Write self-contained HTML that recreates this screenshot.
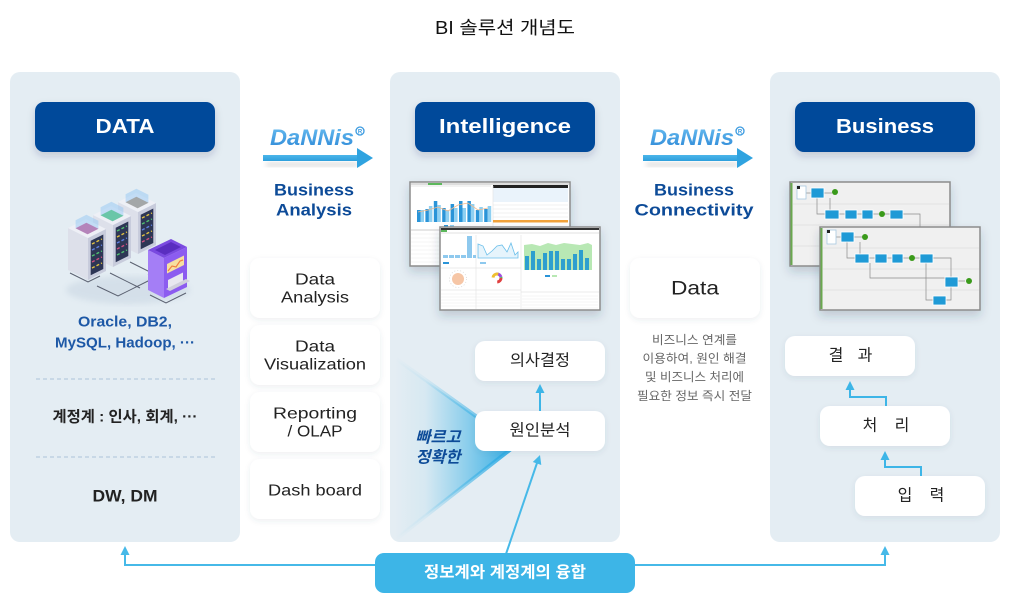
<!DOCTYPE html>
<html><head><meta charset="utf-8">
<style>
html,body{margin:0;padding:0;background:#fff;}
svg{display:block;}
text{font-family:"Liberation Sans","Noto Sans CJK KR",sans-serif;}
</style></head>
<body>
<svg width="1010" height="601" viewBox="0 0 1010 601" xmlns="http://www.w3.org/2000/svg">
<defs>
  <filter id="sh" x="-20%" y="-20%" width="140%" height="150%">
    <feDropShadow dx="0" dy="2" stdDeviation="3" flood-color="#2a4a6a" flood-opacity="0.09"/>
  </filter>
  <filter id="hsh" x="-20%" y="-20%" width="140%" height="160%">
    <feDropShadow dx="0" dy="4" stdDeviation="4" flood-color="#1a3050" flood-opacity="0.18"/>
  </filter>
  <filter id="ssh" x="-20%" y="-20%" width="140%" height="160%">
    <feDropShadow dx="0" dy="5" stdDeviation="5" flood-color="#1a3050" flood-opacity="0.2"/>
  </filter>
  <filter id="blur4"><feGaussianBlur stdDeviation="3"/></filter>
  <linearGradient id="tri" x1="395" y1="0" x2="516" y2="0" gradientUnits="userSpaceOnUse">
    <stop offset="0" stop-color="#3bb4e6" stop-opacity="0"/>
    <stop offset="0.25" stop-color="#3bb4e6" stop-opacity="0.08"/>
    <stop offset="1" stop-color="#2eaae3" stop-opacity="1"/>
  </linearGradient>
  <linearGradient id="dan" x1="0" y1="0" x2="0" y2="1">
    <stop offset="0" stop-color="#6cc0f2"/>
    <stop offset="1" stop-color="#2a86d6"/>
  </linearGradient>
  <linearGradient id="arr" x1="0" y1="0" x2="0" y2="1">
    <stop offset="0" stop-color="#4cb6ea"/>
    <stop offset="1" stop-color="#2e9fdc"/>
  </linearGradient>
</defs>

<!-- Title -->
<text x="505" y="28" font-size="18" fill="#111" text-anchor="middle" dominant-baseline="central" textLength="140" lengthAdjust="spacingAndGlyphs">BI 솔루션 개념도</text>

<!-- Panels -->
<rect x="10" y="72" width="230" height="470" rx="10" fill="#e4edf3"/>
<rect x="390" y="72" width="230" height="470" rx="10" fill="#e4edf3"/>
<rect x="770" y="72" width="230" height="470" rx="10" fill="#e4edf3"/>

<!-- Header buttons -->
<rect x="35" y="102" width="180" height="50" rx="9" fill="#00489a" filter="url(#hsh)"/>
<text x="125" y="127" font-size="20" font-weight="bold" fill="#fff" text-anchor="middle" dominant-baseline="central" textLength="59" lengthAdjust="spacingAndGlyphs">DATA</text>
<rect x="415" y="102" width="180" height="50" rx="9" fill="#00489a" filter="url(#hsh)"/>
<text x="505" y="127" font-size="20" font-weight="bold" fill="#fff" text-anchor="middle" dominant-baseline="central" textLength="132" lengthAdjust="spacingAndGlyphs">Intelligence</text>
<rect x="795" y="102" width="180" height="50" rx="9" fill="#00489a" filter="url(#hsh)"/>
<text x="885" y="127" font-size="20" font-weight="bold" fill="#fff" text-anchor="middle" dominant-baseline="central" textLength="98" lengthAdjust="spacingAndGlyphs">Business</text>

<!-- DaNNis arrows -->
<g>
  <text x="270" y="145" font-size="22" font-weight="bold" font-style="italic" fill="url(#dan)" textLength="84" lengthAdjust="spacingAndGlyphs">DaNNis</text>
  <circle cx="360" cy="131" r="4" fill="none" stroke="#3a9ae0" stroke-width="1.3"/>
  <text x="360" y="133.5" font-size="6" font-weight="bold" fill="#3a9ae0" text-anchor="middle">R</text>
  <rect x="266" y="162" width="92" height="5" fill="#000" opacity="0.13" filter="url(#blur4)"/>
  <rect x="263" y="155" width="95" height="6" fill="url(#arr)"/>
  <polygon points="357,148 373,158 357,168" fill="#2fa3e0"/>
  <text x="314" y="190" font-size="17" font-weight="bold" fill="#0d4b98" text-anchor="middle" dominant-baseline="central" textLength="80" lengthAdjust="spacingAndGlyphs">Business</text>
  <text x="314" y="210" font-size="17" font-weight="bold" fill="#0d4b98" text-anchor="middle" dominant-baseline="central" textLength="76" lengthAdjust="spacingAndGlyphs">Analysis</text>
</g>
<g>
  <text x="650" y="145" font-size="22" font-weight="bold" font-style="italic" fill="url(#dan)" textLength="84" lengthAdjust="spacingAndGlyphs">DaNNis</text>
  <circle cx="740" cy="131" r="4" fill="none" stroke="#3a9ae0" stroke-width="1.3"/>
  <text x="740" y="133.5" font-size="6" font-weight="bold" fill="#3a9ae0" text-anchor="middle">R</text>
  <rect x="646" y="162" width="92" height="5" fill="#000" opacity="0.13" filter="url(#blur4)"/>
  <rect x="643" y="155" width="95" height="6" fill="url(#arr)"/>
  <polygon points="737,148 753,158 737,168" fill="#2fa3e0"/>
  <text x="694" y="190" font-size="17" font-weight="bold" fill="#0d4b98" text-anchor="middle" dominant-baseline="central" textLength="80" lengthAdjust="spacingAndGlyphs">Business</text>
  <text x="694" y="210" font-size="17" font-weight="bold" fill="#0d4b98" text-anchor="middle" dominant-baseline="central" textLength="119" lengthAdjust="spacingAndGlyphs">Connectivity</text>
</g>

<!-- Column 2 boxes -->
<g filter="url(#sh)">
  <rect x="250" y="258" width="130" height="60" rx="10" fill="#fff"/>
  <rect x="250" y="325" width="130" height="60" rx="10" fill="#fff"/>
  <rect x="250" y="392" width="130" height="60" rx="10" fill="#fff"/>
  <rect x="250" y="459" width="130" height="60" rx="10" fill="#fff"/>
  <rect x="630" y="258" width="130" height="60" rx="10" fill="#fff"/>
</g>
<g font-size="16" fill="#222" text-anchor="middle" dominant-baseline="central">
  <text x="315" y="280" textLength="40" lengthAdjust="spacingAndGlyphs">Data</text>
  <text x="315" y="298" textLength="68" lengthAdjust="spacingAndGlyphs">Analysis</text>
  <text x="315" y="347" textLength="40" lengthAdjust="spacingAndGlyphs">Data</text>
  <text x="315" y="365" textLength="102" lengthAdjust="spacingAndGlyphs">Visualization</text>
  <text x="315" y="414" textLength="84" lengthAdjust="spacingAndGlyphs">Reporting</text>
  <text x="315" y="432" textLength="55" lengthAdjust="spacingAndGlyphs">/ OLAP</text>
  <text x="315" y="491" textLength="94" lengthAdjust="spacingAndGlyphs">Dash board</text>
</g>
<text x="695" y="289" font-size="19" fill="#222" text-anchor="middle" dominant-baseline="central" textLength="48" lengthAdjust="spacingAndGlyphs">Data</text>
<g font-size="12" fill="#666" text-anchor="middle" dominant-baseline="central">
  <text x="694.5" y="340" textLength="85" lengthAdjust="spacingAndGlyphs">비즈니스 연계를</text>
  <text x="694.5" y="358.5" textLength="104" lengthAdjust="spacingAndGlyphs">이용하여, 원인 해결</text>
  <text x="694.5" y="377" textLength="99" lengthAdjust="spacingAndGlyphs">및 비즈니스 처리에</text>
  <text x="694.5" y="396" textLength="115" lengthAdjust="spacingAndGlyphs">필요한 정보 즉시 전달</text>
</g>

<!-- Panel 1 servers illustration -->
<g>
  <ellipse cx="128" cy="290" rx="62" ry="14" fill="#b8c8d8" opacity="0.35" filter="url(#blur4)"/>
  <g stroke="#5a6070" stroke-width="1" fill="none">
    <polyline points="70,273 88,282 100,276"/>
    <polyline points="97,286 118,296 150,280"/>
    <polyline points="130,262 152,273 148,275"/>
    <polyline points="150,295 166,303 186,293"/>
    <polyline points="140,288 110,273"/>
  </g>
  <g transform="translate(50,-26)">
    <polygon points="68,228 88,238 88,280 68,270" fill="#dde0ea"/>
    <polygon points="88,238 106,229 106,271 88,280" fill="#c8ccdc"/>
    <polygon points="68,228 86,219 106,229 88,238" fill="#eef0f6"/>
    <polygon points="90.7,240.8 103.3,234.5 103.3,269 90.7,275.2" fill="#2d3655"/>
    <g stroke-width="1.4" stroke-dasharray="3 2">
      <line x1="92" y1="244" x2="102" y2="239" stroke="#e0c040"/>
      <line x1="92" y1="250" x2="102" y2="245" stroke="#50c070"/>
      <line x1="92" y1="256" x2="102" y2="251" stroke="#6080e0"/>
      <line x1="92" y1="262" x2="102" y2="257" stroke="#e0c040"/>
      <line x1="92" y1="268" x2="102" y2="263" stroke="#d05080"/>
    </g>
    <polygon points="75.6,228.2 86.4,222.8 98.4,228.8 87.6,234.2" fill="#b8906a"/>
    <polygon points="75.6,228.2 87.6,234.2 98.4,228.8 98.4,220.8 86.4,214.8 75.6,220.2" fill="#8cc4f4" opacity="0.45"/>
  </g>
  <g transform="translate(25,-13)">
    <polygon points="68,228 88,238 88,280 68,270" fill="#dde0ea"/>
    <polygon points="88,238 106,229 106,271 88,280" fill="#c8ccdc"/>
    <polygon points="68,228 86,219 106,229 88,238" fill="#eef0f6"/>
    <polygon points="90.7,240.8 103.3,234.5 103.3,269 90.7,275.2" fill="#2d3655"/>
    <g stroke-width="1.4" stroke-dasharray="3 2">
      <line x1="92" y1="244" x2="102" y2="239" stroke="#50c070"/>
      <line x1="92" y1="250" x2="102" y2="245" stroke="#e0c040"/>
      <line x1="92" y1="256" x2="102" y2="251" stroke="#6080e0"/>
      <line x1="92" y1="262" x2="102" y2="257" stroke="#d05080"/>
      <line x1="92" y1="268" x2="102" y2="263" stroke="#50c070"/>
    </g>
    <polygon points="75.6,228.2 86.4,222.8 98.4,228.8 87.6,234.2" fill="#4fc86a"/>
    <polygon points="75.6,228.2 87.6,234.2 98.4,228.8 98.4,220.8 86.4,214.8 75.6,220.2" fill="#8cc4f4" opacity="0.45"/>
  </g>
  <g>
    <polygon points="68,228 88,238 88,280 68,270" fill="#dde0ea"/>
    <polygon points="88,238 106,229 106,271 88,280" fill="#c8ccdc"/>
    <polygon points="68,228 86,219 106,229 88,238" fill="#eef0f6"/>
    <polygon points="90.7,240.8 103.3,234.5 103.3,269 90.7,275.2" fill="#2d3655"/>
    <g stroke-width="1.4" stroke-dasharray="3 2">
      <line x1="92" y1="244" x2="102" y2="239" stroke="#e0c040"/>
      <line x1="92" y1="250" x2="102" y2="245" stroke="#6080e0"/>
      <line x1="92" y1="256" x2="102" y2="251" stroke="#50c070"/>
      <line x1="92" y1="262" x2="102" y2="257" stroke="#d05080"/>
      <line x1="92" y1="268" x2="102" y2="263" stroke="#e0c040"/>
    </g>
    <polygon points="75.6,228.2 86.4,222.8 98.4,228.8 87.6,234.2" fill="#d6508a"/>
    <polygon points="75.6,228.2 87.6,234.2 98.4,228.8 98.4,220.8 86.4,214.8 75.6,220.2" fill="#8cc4f4" opacity="0.45"/>
  </g>
  <g>
    <polygon points="148,250 164,258 164,298 148,290" fill="#a47ef6"/>
    <polygon points="164,258 187,247 187,287 164,298" fill="#8c5cf0"/>
    <polygon points="148,250 171,239 187,247 164,258" fill="#7a4ae0"/>
    <polygon points="155,250 171,242 181,247 165,255" fill="#5a2ec0"/>
    <polygon points="167,264 184,255.5 184,265 167,273.5" fill="#f6e0a0"/>
    <polyline points="168,271 172,266 176,267 180,261 183,260" fill="none" stroke="#f08040" stroke-width="1.2"/>
    <polygon points="168,280 183,272.5 183,282 168,289.5" fill="#e8e8f0"/>
    <polygon points="166,289 186,279 190,281 170,291" fill="#d0d0dc"/>
  </g>
</g>

<!-- Panel 1 texts -->
<text x="125" y="322" font-size="15" font-weight="bold" fill="#1d58a6" text-anchor="middle" dominant-baseline="central" textLength="94" lengthAdjust="spacingAndGlyphs">Oracle, DB2,</text>
<text x="125" y="343" font-size="15" font-weight="bold" fill="#1d58a6" text-anchor="middle" dominant-baseline="central" textLength="140" lengthAdjust="spacingAndGlyphs">MySQL, Hadoop, ···</text>
<line x1="36" y1="379" x2="216" y2="379" stroke="#bfd2e2" stroke-width="1.5" stroke-dasharray="4 3"/>
<text x="125" y="417" font-size="15" font-weight="bold" fill="#222" text-anchor="middle" dominant-baseline="central" textLength="145" lengthAdjust="spacingAndGlyphs">계정계 : 인사, 회계, ···</text>
<line x1="36" y1="457" x2="216" y2="457" stroke="#bfd2e2" stroke-width="1.5" stroke-dasharray="4 3"/>
<text x="125" y="496" font-size="17" font-weight="bold" fill="#222" text-anchor="middle" dominant-baseline="central" textLength="65" lengthAdjust="spacingAndGlyphs">DW, DM</text>

<!-- Intelligence screenshots -->
<g>
  <rect x="410" y="182" width="160" height="84" fill="#fff" stroke="#8c8c8c" stroke-width="1.5" filter="url(#ssh)"/>
  <rect x="411" y="183" width="158" height="2" fill="#ddd"/>
  <rect x="428" y="183" width="14" height="2" fill="#5cb85c"/>
  <rect x="411" y="185" width="80" height="2" fill="#f2f2f2"/>
  <g fill="#2a94d8">
    <rect x="417" y="210" width="3.5" height="12"/><rect x="425.4" y="209" width="3.5" height="13"/>
    <rect x="433.8" y="201" width="3.5" height="21"/><rect x="442.2" y="208" width="3.5" height="14"/>
    <rect x="450.6" y="204" width="3.5" height="18"/><rect x="459" y="201" width="3.5" height="21"/>
    <rect x="467.4" y="201" width="3.5" height="21"/><rect x="475.8" y="210" width="3.5" height="12"/>
    <rect x="484.2" y="209" width="3.5" height="13"/>
  </g>
  <g fill="#8fd0f2">
    <rect x="420.5" y="210" width="3.5" height="12"/><rect x="428.9" y="206" width="3.5" height="16"/>
    <rect x="437.3" y="205" width="3.5" height="17"/><rect x="445.7" y="210" width="3.5" height="12"/>
    <rect x="454.1" y="208" width="3.5" height="14"/><rect x="462.5" y="208" width="3.5" height="14"/>
    <rect x="470.9" y="204" width="3.5" height="18"/><rect x="479.3" y="207" width="3.5" height="15"/>
    <rect x="487.7" y="206" width="3.5" height="16"/>
  </g>
  <polyline points="418,212 428,210 438,207 448,211 458,205 468,203 478,210 488,208" fill="none" stroke="#f5b98a" stroke-width="0.8"/>
  <rect x="444" y="225" width="4" height="1.5" fill="#2a94d8"/><rect x="450" y="225" width="4" height="1.5" fill="#8fd0f2"/>
  <rect x="493" y="185" width="75" height="3" fill="#222"/>
  <rect x="493" y="188" width="75" height="14" fill="#eaf3fb"/>
  <g stroke="#e2e2e2" stroke-width="0.6">
    <line x1="493" y1="205" x2="568" y2="205"/><line x1="493" y1="209" x2="568" y2="209"/>
    <line x1="493" y1="213" x2="568" y2="213"/><line x1="493" y1="217" x2="568" y2="217"/>
    <line x1="493" y1="186" x2="493" y2="265"/>
  </g>
  <rect x="493" y="220" width="75" height="2.5" fill="#f2a23a"/>
  <line x1="411" y1="230" x2="492" y2="230" stroke="#bbb" stroke-width="0.8"/>
  <g stroke="#ececec" stroke-width="0.6">
    <line x1="411" y1="234" x2="492" y2="234"/><line x1="411" y1="238" x2="492" y2="238"/>
    <line x1="411" y1="242" x2="492" y2="242"/><line x1="411" y1="246" x2="492" y2="246"/>
    <line x1="411" y1="250" x2="492" y2="250"/><line x1="411" y1="254" x2="492" y2="254"/>
    <line x1="411" y1="258" x2="492" y2="258"/><line x1="411" y1="262" x2="492" y2="262"/>
  </g>
</g>
<g>
  <rect x="440" y="227" width="160" height="83" fill="#fff" stroke="#8c8c8c" stroke-width="1.5" filter="url(#ssh)"/>
  <rect x="441" y="228" width="158" height="2" fill="#333"/>
  <rect x="441" y="230" width="6" height="2" fill="#5cb85c"/>
  <rect x="441" y="232" width="158" height="2" fill="#f0f0f0"/>
  <g stroke="#e4e4e4" stroke-width="0.7">
    <line x1="476" y1="235" x2="476" y2="309"/><line x1="521" y1="235" x2="521" y2="309"/>
    <line x1="441" y1="268" x2="521" y2="268"/><line x1="441" y1="290" x2="521" y2="290"/>
    <line x1="521" y1="292" x2="599" y2="292"/>
  </g>
  <g fill="#8ec9ee">
    <rect x="443" y="255" width="5" height="3"/><rect x="449" y="255" width="5" height="3"/>
    <rect x="455" y="255" width="5" height="3"/><rect x="461" y="255" width="5" height="3"/>
    <rect x="467" y="236" width="5" height="22"/><rect x="473" y="255" width="3" height="3"/>
  </g>
  <rect x="443" y="262" width="6" height="2" fill="#2a94d8"/>
  <path d="M478,244 L483,246 L487,255 L492,251 L497,246 L502,245 L507,252 L511,243 L515,255 L518,252 L518,258 L478,258 Z" fill="#e6f4fc" stroke="#6bbfea" stroke-width="0.8"/>
  <rect x="480" y="262" width="6" height="2" fill="#8ec9ee"/>
  <path d="M524,245 L532,244 L540,246 L548,243 L556,245 L564,243 L572,244 L580,245 L588,243 L592,245 L592,270 L524,270 Z" fill="#b8e8b4"/>
  <g fill="#2d9fcf">
    <rect x="525" y="256" width="4" height="14"/><rect x="531" y="251" width="4" height="19"/>
    <rect x="537" y="259" width="4" height="11"/><rect x="543" y="253" width="4" height="17"/>
    <rect x="549" y="251" width="4" height="19"/><rect x="555" y="251" width="4" height="19"/>
    <rect x="561" y="259" width="4" height="11"/><rect x="567" y="259" width="4" height="11"/>
    <rect x="573" y="254" width="4" height="16"/><rect x="579" y="250" width="4" height="20"/>
    <rect x="585" y="258" width="4" height="12"/>
  </g>
  <rect x="545" y="275" width="5" height="2" fill="#2a94d8"/><rect x="552" y="275" width="5" height="2" fill="#b8e8b4"/>
  <circle cx="458" cy="279" r="6" fill="#f6c6a6"/>
  <circle cx="458" cy="279" r="8.5" fill="none" stroke="#ccc" stroke-width="0.6" stroke-dasharray="1 2"/>
  <circle cx="497" cy="278" r="4" fill="none" stroke="#e04040" stroke-width="3" stroke-dasharray="6 30"/>
  <circle cx="497" cy="278" r="4" fill="none" stroke="#40a0e0" stroke-width="3" stroke-dasharray="6 30" stroke-dashoffset="6"/>
  <circle cx="497" cy="278" r="4" fill="none" stroke="#50c050" stroke-width="3" stroke-dasharray="6 30" stroke-dashoffset="12"/>
  <circle cx="497" cy="278" r="4" fill="none" stroke="#a050e0" stroke-width="3" stroke-dasharray="6 30" stroke-dashoffset="18"/>
  <circle cx="497" cy="278" r="4" fill="none" stroke="#f0c030" stroke-width="3" stroke-dasharray="7 30" stroke-dashoffset="24"/>
  <g stroke="#ececec" stroke-width="0.6">
    <line x1="441" y1="294" x2="520" y2="294"/><line x1="441" y1="297" x2="520" y2="297"/>
    <line x1="441" y1="300" x2="520" y2="300"/><line x1="441" y1="303" x2="520" y2="303"/>
    <line x1="441" y1="306" x2="520" y2="306"/>
    <line x1="522" y1="296" x2="598" y2="296"/><line x1="522" y1="299" x2="598" y2="299"/>
    <line x1="522" y1="302" x2="598" y2="302"/><line x1="522" y1="305" x2="598" y2="305"/>
    <line x1="522" y1="308" x2="598" y2="308"/>
  </g>
</g>

<!-- Gradient triangle -->
<polygon points="395,358 516,445 395,540" fill="url(#tri)" stroke="url(#tri)" stroke-width="4" stroke-linejoin="round"/>
<text x="438" y="438" font-size="16" font-weight="bold" font-style="italic" fill="#0d4b98" text-anchor="middle" dominant-baseline="central" textLength="45" lengthAdjust="spacingAndGlyphs">빠르고</text>
<text x="438" y="458" font-size="16" font-weight="bold" font-style="italic" fill="#0d4b98" text-anchor="middle" dominant-baseline="central" textLength="45" lengthAdjust="spacingAndGlyphs">정확한</text>

<!-- Intelligence boxes -->
<g filter="url(#sh)">
  <rect x="475" y="341" width="130" height="40" rx="10" fill="#fff"/>
  <rect x="475" y="411" width="130" height="40" rx="10" fill="#fff"/>
</g>
<text x="540" y="361" font-size="16" fill="#222" text-anchor="middle" dominant-baseline="central" textLength="60" lengthAdjust="spacingAndGlyphs">의사결정</text>
<text x="540" y="431" font-size="16" fill="#222" text-anchor="middle" dominant-baseline="central" textLength="61" lengthAdjust="spacingAndGlyphs">원인분석</text>
<line x1="540" y1="411" x2="540" y2="392" stroke="#3db5e7" stroke-width="2"/>
<polygon points="535.5,393 540,384 544.5,393" fill="#3db5e7"/>

<!-- Business screenshots -->
<g>
  <rect x="790" y="182" width="160" height="84" fill="#f0f0f0" stroke="#8c8c8c" stroke-width="1.5" filter="url(#ssh)"/>
  <line x1="791.5" y1="183" x2="791.5" y2="265" stroke="#6aa84f" stroke-width="2"/>
  <g stroke="#dedede" stroke-width="0.7"><line x1="793" y1="204" x2="949" y2="204"/><line x1="793" y1="225" x2="949" y2="225"/><line x1="793" y1="246" x2="949" y2="246"/></g>
  <g stroke="#8a8a8a" stroke-width="0.7" fill="none">
    <polyline points="806,193 811,193"/><polyline points="824,193 832,193"/>
    <polyline points="817,198 817,214 825,214"/><polyline points="830,198 830,210"/>
    <polyline points="839,214 845,214"/><polyline points="857,214 862,214"/><polyline points="873,214 879,214"/><polyline points="885,214 890,214"/>
    <polyline points="903,214 920,214 920,240"/>
  </g>
  <rect x="797" y="186" width="9" height="13" fill="#fff" stroke="#a8c8e0" stroke-width="0.8"/>
  <rect x="797" y="186" width="3" height="3" fill="#222"/>
  <g fill="#1f9ad6" stroke="#fff" stroke-width="0.8">
    <rect x="811" y="188" width="13" height="10"/><rect x="825" y="210" width="14" height="9"/>
    <rect x="845" y="210" width="12" height="9"/><rect x="862" y="210" width="11" height="9"/>
    <rect x="890" y="210" width="13" height="9"/>
  </g>
  <circle cx="835" cy="192" r="3" fill="#3a9a1a"/><circle cx="882" cy="214" r="3" fill="#3a9a1a"/>
</g>
<g>
  <rect x="820" y="227" width="160" height="83" fill="#f0f0f0" stroke="#8c8c8c" stroke-width="1.5" filter="url(#ssh)"/>
  <line x1="821.5" y1="228" x2="821.5" y2="309" stroke="#6aa84f" stroke-width="2"/>
  <g stroke="#dedede" stroke-width="0.7"><line x1="823" y1="248" x2="979" y2="248"/><line x1="823" y1="269" x2="979" y2="269"/><line x1="823" y1="290" x2="979" y2="290"/></g>
  <g stroke="#8a8a8a" stroke-width="0.7" fill="none">
    <polyline points="836,237 841,237"/><polyline points="854,237 862,237"/>
    <polyline points="847,242 847,258 855,258"/><polyline points="860,242 860,254"/>
    <polyline points="869,258 875,258"/><polyline points="887,258 892,258"/><polyline points="903,258 909,258"/><polyline points="915,258 920,258"/>
    <polyline points="933,258 951,258 951,277"/>
    <polyline points="958,281 965,281"/>
    <polyline points="870,263 870,278 945,278"/>
    <polyline points="926,263 926,300 933,300"/>
    <polyline points="946,300 951,300 951,287"/>
  </g>
  <rect x="827" y="230" width="9" height="14" fill="#fff" stroke="#a8c8e0" stroke-width="0.8"/>
  <rect x="827" y="230" width="3" height="3" fill="#222"/>
  <g fill="#1f9ad6" stroke="#fff" stroke-width="0.8">
    <rect x="841" y="232" width="13" height="10"/><rect x="855" y="254" width="14" height="9"/>
    <rect x="875" y="254" width="12" height="9"/><rect x="892" y="254" width="11" height="9"/>
    <rect x="920" y="254" width="13" height="9"/>
    <rect x="945" y="277" width="13" height="10"/><rect x="933" y="296" width="13" height="9"/>
  </g>
  <circle cx="865" cy="237" r="3" fill="#3a9a1a"/><circle cx="912" cy="258" r="3" fill="#3a9a1a"/>
  <circle cx="969" cy="281" r="3" fill="#3a9a1a"/>
</g>

<!-- Business boxes -->
<g filter="url(#sh)">
  <rect x="785" y="336" width="130" height="40" rx="10" fill="#fff"/>
  <rect x="820" y="406" width="130" height="40" rx="10" fill="#fff"/>
  <rect x="855" y="476" width="130" height="40" rx="10" fill="#fff"/>
</g>
<g font-size="16" fill="#222" text-anchor="middle" dominant-baseline="central">
  <text x="836" y="356">결</text><text x="865" y="356">과</text>
  <text x="870" y="426">처</text><text x="902" y="426">리</text>
  <text x="905" y="496">입</text><text x="937" y="496">력</text>
</g>
<g stroke="#3db5e7" stroke-width="2" fill="none">
  <polyline points="886,406 886,397 850,397 850,389"/>
  <polyline points="921,476 921,467 885,467 885,459"/>
</g>
<polygon points="845.5,390 850,381 854.5,390" fill="#3db5e7"/>
<polygon points="880.5,460 885,451 889.5,460" fill="#3db5e7"/>

<!-- Bottom connectors -->
<g stroke="#46b9e8" stroke-width="2" fill="none">
  <polyline points="376,565 125,565 125,554"/>
  <polyline points="634,565 885,565 885,554"/>
  <line x1="506" y1="554" x2="537" y2="463"/>
</g>
<polygon points="120.5,555 125,546 129.5,555" fill="#46b9e8"/>
<polygon points="880.5,555 885,546 889.5,555" fill="#46b9e8"/>
<polygon points="540,455 532.8,462 541.3,465" fill="#46b9e8"/>

<rect x="375" y="553" width="260" height="40" rx="9" fill="#3db5e7"/>
<text x="505" y="573" font-size="16" font-weight="bold" fill="#fff" text-anchor="middle" dominant-baseline="central" textLength="162" lengthAdjust="spacingAndGlyphs">정보계와 계정계의 융합</text>
</svg>
</body></html>
